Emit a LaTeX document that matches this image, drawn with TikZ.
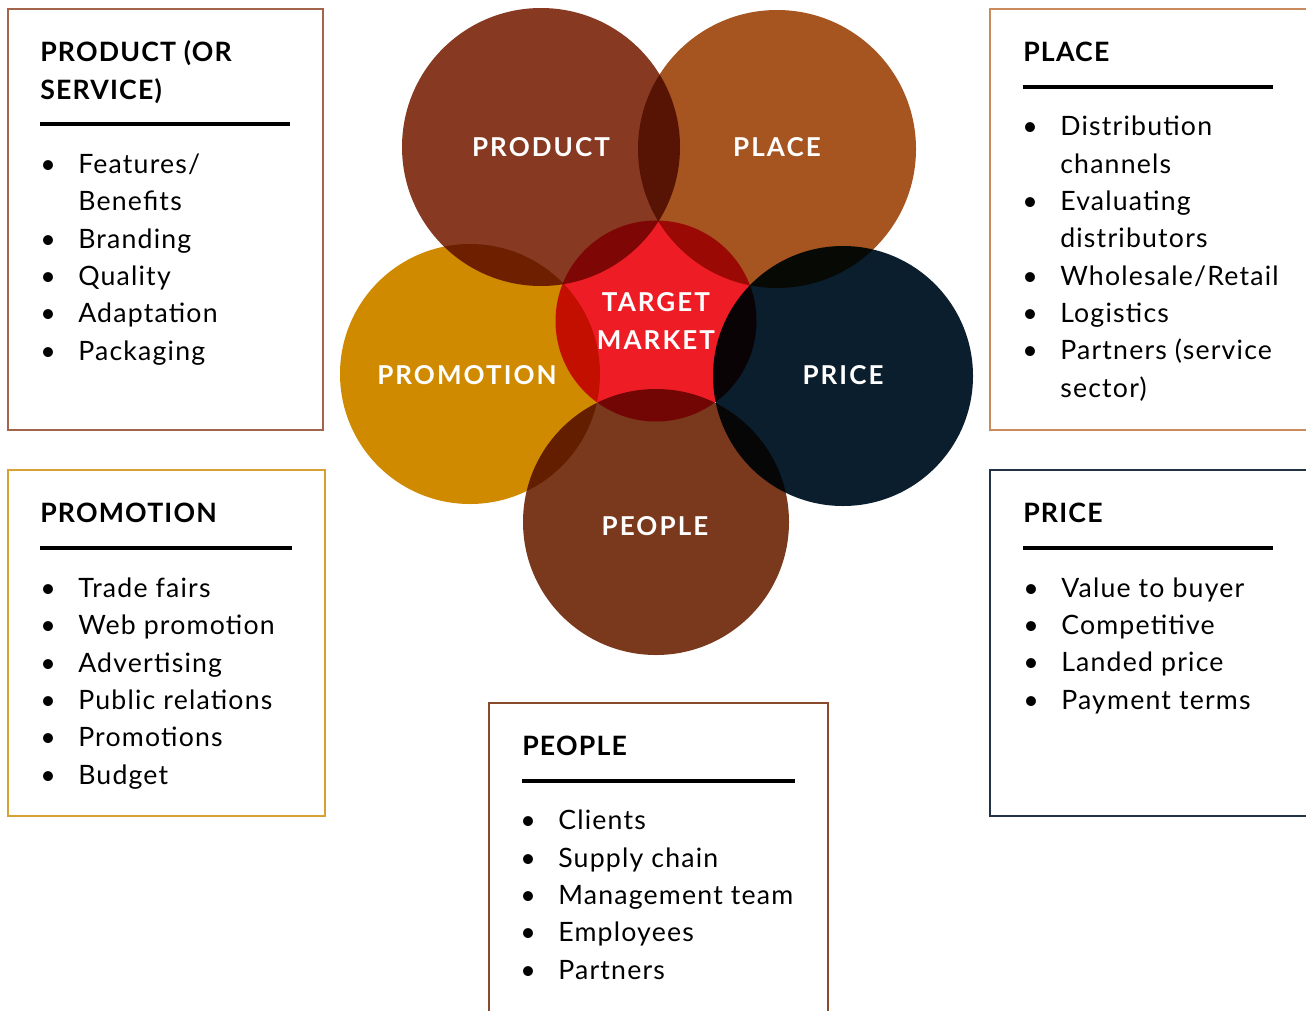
\documentclass[tikz,border=0pt]{standalone}
\usepackage{fontspec}
\setmainfont{Lato}[LetterSpace=4.5]
\newfontfamily\ringfont[LetterSpace=8]{Lato}
\usepackage{tikz}
\usetikzlibrary{positioning}

\definecolor{prodbrown}{HTML}{873A21}
\definecolor{placeorange}{HTML}{A65420}
\definecolor{promogold}{HTML}{D08A00}
\definecolor{pricenavy}{HTML}{0B1E2E}
\definecolor{peoplebrown}{HTML}{7A381C}
\definecolor{targetred}{HTML}{EE1D25}
\definecolor{prodframe}{HTML}{A3644C}
\definecolor{placeframe}{HTML}{C98A5E}
\definecolor{promoframe}{HTML}{D9A033}
\definecolor{priceframe}{HTML}{233344}
\definecolor{peopleframe}{HTML}{8A4A2C}

\newcommand{\dotitem}{\makebox[28.5pt][l]{\textbullet}}
\newcommand{\wrapitem}{\hspace*{28.5pt}}

\tikzset{
	ring/.style={circle, inner sep=0pt, minimum size=#1},
	ringlabel/.style={text=white, font=\ringfont\bfseries\fontsize{19.5}{28.5}\selectfont, align=center, inner sep=0pt},
	infobox/.style={draw=#1, line width=0.9pt},
	boxhead/.style={anchor=base west, inner sep=0pt, font=\bfseries\fontsize{20}{28.5}\selectfont, align=left},
	boxlist/.style={anchor=base west, inner sep=0pt, font=\fontsize{20}{28}\selectfont, align=left},
	headrule/.style={line width=2.4pt},
}

\begin{document}
\begin{tikzpicture}[x=0.75pt, y=-0.75pt]
	\useasboundingbox (0,0) rectangle (1306,1010);
	% five rings and the target market
	\begin{scope}[blend mode=multiply]
		\node[ring=208.5pt, fill=prodbrown] (prod) at (541,147) {};
		\node[ring=208.5pt, fill=placeorange] (place) at (777,149) {};
		\node[ring=195pt, fill=promogold] (promo) at (470,374) {};
		\node[ring=195pt, fill=pricenavy] (price) at (843,376) {};
		\node[ring=199.5pt, fill=peoplebrown] (people) at (656,522) {};
		\node[ring=150.75pt, fill=targetred] (target) at (656,321) {};
	\end{scope}
	\node[ringlabel] (prodlbl) at (prod) {PRODUCT};
	\node[ringlabel] (placelbl) at (777,147) {PLACE};
	\node[ringlabel] (promolbl) at (467,375) {PROMOTION};
	\node[ringlabel] (pricelbl) at (843,375) {PRICE};
	\node[ringlabel] (peoplelbl) at (655,526) {PEOPLE};
	\node[ringlabel] (targetlbl) at (target) {TARGET\\MARKET};

	% product box
	\draw[infobox=prodframe] (8,9) rectangle (323,430);
	\node[boxhead] (prodhead) at (40,99) {PRODUCT (OR\\SERVICE)};
	\draw[headrule] (40,124) -- (290,124);
	\node[boxlist] (prodlist) at (40,360) {\dotitem Features/\\ \wrapitem Benefits\\ \dotitem Branding\\ \dotitem Quality\\ \dotitem Adaptation\\ \dotitem Packaging};

	% place box
	\draw[infobox=placeframe] (990,9) rectangle (1310,430);
	\node[boxhead] (placehead) at (1023,61) {PLACE};
	\draw[headrule] (1023,87) -- (1273,87);
	\node[boxlist] (placelist) at (1022,397) {\dotitem Distribution\\ \wrapitem channels\\ \dotitem Evaluating\\ \wrapitem distributors\\ \dotitem Wholesale/Retail\\ \dotitem Logistics\\ \dotitem Partners (service\\ \wrapitem sector)};

	% promotion box
	\draw[infobox=promoframe] (8,470) rectangle (325,816);
	\node[boxhead] (promohead) at (40,522) {PROMOTION};
	\draw[headrule] (40,548) -- (292,548);
	\node[boxlist] (promolist) at (40,784) {\dotitem Trade fairs\\ \dotitem Web promotion\\ \dotitem Advertising\\ \dotitem Public relations\\ \dotitem Promotions\\ \dotitem Budget};

	% price box
	\draw[infobox=priceframe] (990,470) rectangle (1310,816);
	\node[boxhead] (pricehead) at (1023,522) {PRICE};
	\draw[headrule] (1023,548) -- (1273,548);
	\node[boxlist] (pricelist) at (1023,709) {\dotitem Value to buyer\\ \dotitem Competitive\\ \dotitem Landed price\\ \dotitem Payment terms};

	% people box
	\draw[infobox=peopleframe] (489,1015) -- (489,703) -- (828,703) -- (828,1015);
	\node[boxhead] (peoplehead) at (522,755) {PEOPLE};
	\draw[headrule] (522,781) -- (795,781);
	\node[boxlist] (peoplelist) at (520,979) {\dotitem Clients\\ \dotitem Supply chain\\ \dotitem Management team\\ \dotitem Employees\\ \dotitem Partners};
\end{tikzpicture}
\end{document}
